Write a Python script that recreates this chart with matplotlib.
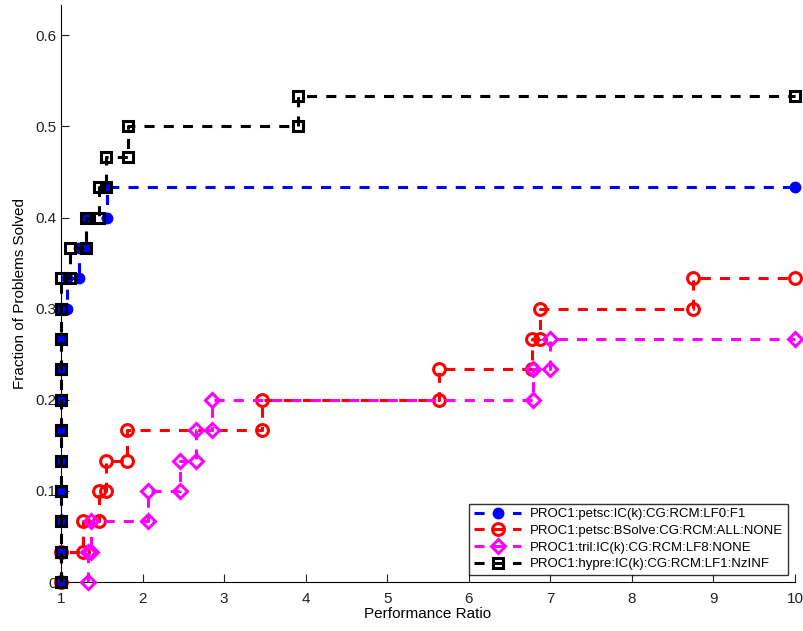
import matplotlib
matplotlib.use("Agg")
import matplotlib.pyplot as plt

plt.rcParams['font.family'] = ['Liberation Sans', 'DejaVu Sans']

# Performance ratios (sorted) at which each solver configuration solves another problem
n_problems = 30
ratio_max = 10.0

labels = [
    "PROC1:petsc:IC(k):CG:RCM:LF0:F1",
    "PROC1:petsc:BSolve:CG:RCM:ALL:NONE",
    "PROC1:tril:IC(k):CG:RCM:LF8:NONE",
    "PROC1:hypre:IC(k):CG:RCM:LF1:NzINF",
]
ratios_petsc_ic = [1.0] * 9 + [1.07, 1.22, 1.31, 1.56]
ratios_petsc_bsolve = [1.0, 1.27, 1.47, 1.55, 1.81, 3.46, 5.63, 6.77, 6.87, 8.75]
ratios_tril = [1.325, 1.37, 2.07, 2.455, 2.655, 2.85, 6.79, 7.0]
ratios_hypre = [1.0] * 10 + [1.11, 1.31, 1.46, 1.55, 1.82, 3.9]

colors = ["#0000ff", "#ff0000", "#ff00ff", "#000000"]
markers = ["o", "o", "D", "s"]
filled = [True, False, False, False]
msizes = [6.3, 8.5, 7.0, 7.5]


def stair_points(ratios, n, xmax):
    xs, ys = [ratios[0]], [0.0]
    for i, r in enumerate(ratios):
        if i > 0:
            xs.append(r)
            ys.append(i / n)
        xs.append(r)
        ys.append((i + 1) / n)
    xs.append(xmax)
    ys.append(len(ratios) / n)
    return xs, ys


fig = plt.figure(figsize=(8.04, 6.31), dpi=100)
ax = fig.add_axes([61 / 804, 1 - 582 / 631, (795 - 61) / 804, (582 - 5) / 631])

all_ratios = [ratios_petsc_ic, ratios_petsc_bsolve, ratios_tril, ratios_hypre]
lw = 2.2
for k, r in enumerate(all_ratios):
    xs, ys = stair_points(r, n_problems, ratio_max)
    ax.plot(xs, ys, linestyle="--", dashes=(3.3, 3.0), color=colors[k], lw=lw,
            marker=markers[k], ms=msizes[k], mew=2.2,
            mfc=colors[k] if filled[k] else "none", mec=colors[k],
            label=labels[k], clip_on=False, zorder=3 + k)

ax.set_xlim(1, 10)
ax.set_ylim(0, 0.6333)
ax.set_xticks(range(1, 11))
ax.set_yticks([0, 0.1, 0.2, 0.3, 0.4, 0.5, 0.6])
ax.set_yticklabels(["0", "0.1", "0.2", "0.3", "0.4", "0.5", "0.6"])
ax.spines['top'].set_visible(False)
ax.spines['right'].set_visible(False)
for s in ('left', 'bottom'):
    ax.spines[s].set_linewidth(0.8)
ax.tick_params(axis='both', direction='in', length=6, width=0.8, labelsize=11,
               colors='#222222')
ax.tick_params(axis='x', pad=7)
ax.tick_params(axis='y', pad=3)

ax.set_xlabel("Performance Ratio", fontsize=11, labelpad=1)
ax.set_ylabel("Fraction of Problems Solved", fontsize=11, labelpad=6)

leg = ax.legend(loc="lower right", fontsize=9.5, frameon=True, fancybox=False,
                edgecolor="black", handlelength=3.6, handletextpad=0.65,
                borderpad=0.35, labelspacing=0.33, borderaxespad=0.55,
                bbox_to_anchor=(1.0, 0.0))
leg.get_frame().set_linewidth(1.0)
leg.set_zorder(10)

fig.savefig("out.png", dpi=100)
